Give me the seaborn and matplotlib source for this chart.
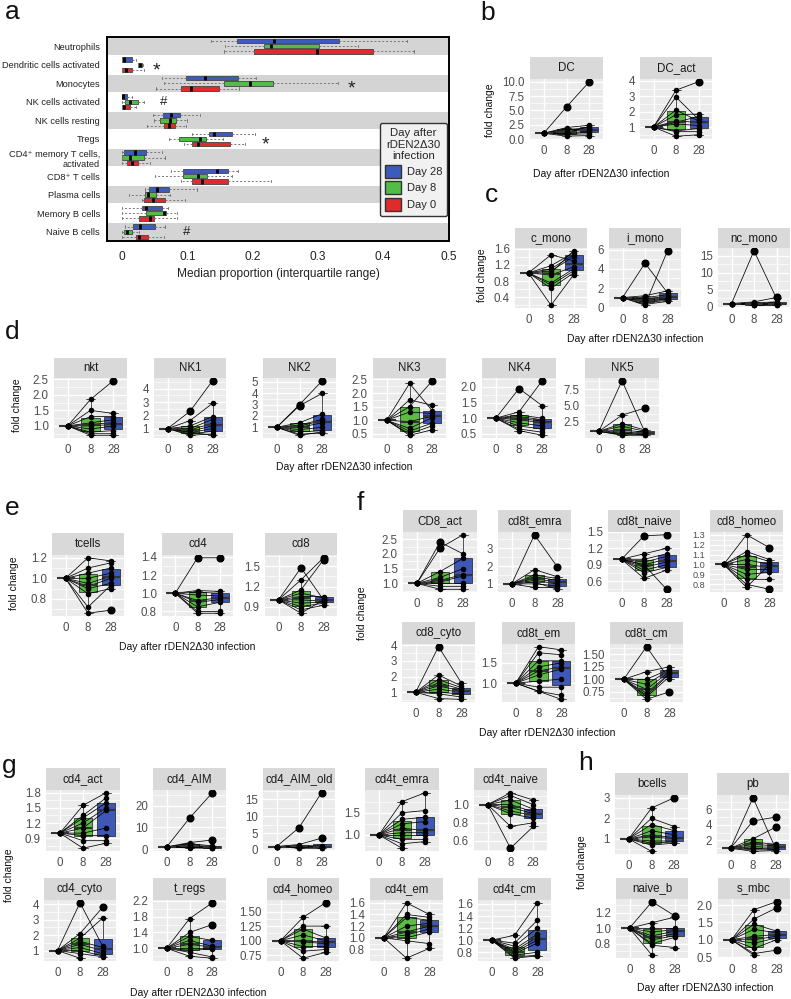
import matplotlib
matplotlib.use("Agg")
import matplotlib.pyplot as plt
import numpy as np
import pandas as pd
import seaborn as sns
from matplotlib.patches import Patch

W, H = 791, 999

# ---------------- panel a: median proportion per cell type ----------------
CELL_TYPES = [
    "Neutrophils", "Dendritic cells activated", "Monocytes", "NK cells activated",
    "NK cells resting", "Tregs", "CD4⁺ memory T cells,\nactivated", "CD8⁺ T cells",
    "Plasma cells", "Memory B cells", "Naive B cells",
]
# (lower whisker, q1, median, q3, upper whisker)
DAY28_STATS = [
    (0.137, 0.176, 0.233, 0.332, 0.437), (0.0, 0.0, 0.003, 0.016, 0.022),
    (0.061, 0.098, 0.127, 0.177, 0.206), (0.0, 0.0, 0.001, 0.008, 0.016),
    (0.048, 0.063, 0.075, 0.089, 0.120), (0.107, 0.134, 0.141, 0.169, 0.203),
    (0.0, 0.003, 0.020, 0.036, 0.062), (0.075, 0.093, 0.146, 0.163, 0.177),
    (0.035, 0.041, 0.053, 0.072, 0.115), (0.0, 0.031, 0.037, 0.062, 0.071),
    (0.005, 0.017, 0.027, 0.051, 0.066),
]
DAY8_STATS = [
    (0.158, 0.218, 0.229, 0.302, 0.362), (0.024, 0.025, 0.028, 0.031, 0.032),
    (0.064, 0.156, 0.196, 0.231, 0.331), (0.0, 0.004, 0.013, 0.024, 0.033),
    (0.049, 0.058, 0.073, 0.083, 0.100), (0.072, 0.087, 0.120, 0.129, 0.154),
    (0.0, 0.0, 0.013, 0.034, 0.066), (0.050, 0.093, 0.116, 0.130, 0.168),
    (0.010, 0.035, 0.040, 0.052, 0.074), (0.0, 0.037, 0.064, 0.068, 0.085),
    (0.0, 0.003, 0.008, 0.016, 0.026),
]
DAY0_STATS = [
    (0.156, 0.202, 0.299, 0.384, 0.447), (0.0, 0.0, 0.006, 0.016, 0.034),
    (0.052, 0.090, 0.106, 0.148, 0.179), (0.0, 0.0, 0.003, 0.013, 0.021),
    (0.039, 0.064, 0.072, 0.081, 0.098), (0.095, 0.107, 0.117, 0.165, 0.189),
    (0.0, 0.008, 0.016, 0.025, 0.043), (0.091, 0.107, 0.122, 0.163, 0.229),
    (0.030, 0.033, 0.047, 0.066, 0.097), (0.0, 0.026, 0.043, 0.049, 0.084),
    (0.0, 0.021, 0.026, 0.040, 0.065),
]
SIG_MARKS = [("*", 1, 0.053), ("*", 2, 0.351), ("#", 3, 0.063), ("*", 5, 0.220), ("#", 10, 0.099)]
A_XTICKS = [0, 0.1, 0.2, 0.3, 0.4, 0.5]
A_XTICKLABELS = ["0", "0.1", "0.2", "0.3", "0.4", "0.5"]

# ---------------- fold change per subject: (day 8, day 28); day 0 == 1 ----------------
PANEL_B = {
    "DC": ([5.6, 2.0, 1.8, 1.6, 1.3, 1.1, 0.9, 0.8, 0.5, 1.0],
           [10.0, 2.4, 1.5, 2.0, 1.7, 2.2, 1.2, 0.9, 0.6, 1.4]),
    "DC_act": ([3.4, 2.95, 1.8, 1.4, 1.3, 1.2, 0.75, 0.7, 0.4, 2.1],
               [3.95, 1.5, 1.85, 1.3, 1.7, 1.1, 0.9, 0.7, 0.5, 1.4]),
}
PANEL_C = {
    "c_mono": ([1.45, 1.18, 1.1, 1.05, 1.0, 0.95, 0.75, 0.7, 0.62, 0.2],
               [1.3, 1.5, 1.45, 1.4, 1.55, 1.15, 1.1, 1.05, 1.0, 0.95]),
    "i_mono": ([4.6, 1.2, 1.0, 0.9, 0.8, 0.7, 0.6, 0.5, 0.3, 0.2],
               [1.5, 1.7, 1.3, 1.1, 1.0, 0.9, 0.8, 0.7, 0.6, 5.9]),
    "nc_mono": ([16.5, 1.5, 1.2, 1.0, 0.9, 0.8, 0.7, 0.6, 0.5],
                [2.5, 2.8, 1.5, 1.2, 1.0, 0.9, 0.8, 0.6, 0.5]),
}
PANEL_D = {
    "nkt": ([1.85, 1.5, 1.3, 1.1, 1.05, 1.0, 0.9, 0.8, 0.75, 0.7],
            [2.45, 1.4, 1.3, 1.2, 1.1, 1.05, 1.0, 0.85, 0.75, 0.7]),
    "NK1": ([2.3, 1.6, 1.2, 1.0, 0.9, 0.8, 0.7, 0.6, 0.5],
            [4.6, 2.9, 1.9, 1.7, 1.4, 1.2, 1.0, 0.8, 0.6, 0.5]),
    "NK2": ([3.0, 1.4, 1.2, 1.1, 1.0, 0.8, 0.6, 0.4, 0.3, 2.9],
            [5.1, 2.2, 1.7, 1.6, 1.4, 1.0, 0.7, 0.5, 0.6, 4.0]),
    "NK3": ([2.35, 1.75, 1.5, 1.3, 0.95, 0.7, 0.6, 0.5, 0.45],
            [1.35, 1.55, 2.45, 1.25, 1.15, 1.1, 0.9, 0.8, 0.65]),
    "NK4": ([1.95, 1.2, 1.1, 1.05, 1.0, 0.95, 0.85, 0.75, 0.65, 0.6],
            [1.4, 2.2, 1.0, 0.95, 0.9, 0.85, 0.75, 0.65, 0.55, 0.45]),
    "NK5": ([8.8, 3.5, 2.2, 1.8, 1.2, 0.9, 0.7, 0.5, 0.4],
            [0.8, 4.6, 1.2, 1.0, 0.9, 0.7, 0.6, 0.5, 0.4]),
}
PANEL_E = {
    "tcells": ([1.2, 1.1, 1.05, 1.0, 0.95, 0.92, 0.9, 0.85, 0.72, 0.66],
               [1.17, 1.15, 1.1, 1.05, 1.02, 1.0, 0.95, 0.9, 0.93, 0.69]),
    "cd4": ([1.39, 1.03, 1.01, 0.98, 0.92, 0.9, 0.85, 0.8, 0.78],
            [1.39, 1.02, 1.0, 0.97, 0.95, 0.93, 0.9, 0.8, 0.78]),
    "cd8": ([1.48, 1.3, 1.15, 1.1, 1.05, 1.0, 0.95, 0.9, 0.85, 0.8],
            [1.0, 1.63, 1.6, 1.03, 1.05, 0.98, 0.97, 0.95, 0.92, 1.0]),
}
PANEL_F = {
    "CD8_act": ([2.4, 2.2, 1.4, 1.2, 1.1, 1.05, 1.0, 0.9, 0.8],
                [2.0, 2.65, 1.85, 1.5, 1.3, 1.25, 1.0, 0.9, 0.8]),
    "cd8t_emra": ([3.75, 1.8, 1.5, 1.4, 1.3, 1.2, 1.0, 0.8, 1.1],
                  [1.95, 1.4, 1.3, 1.2, 1.1, 1.0, 0.9, 0.8, 0.7]),
    "cd8t_naive": ([1.43, 1.1, 1.0, 0.95, 0.9, 0.85, 0.8, 0.75, 0.65, 0.9],
                   [1.45, 1.2, 1.1, 1.05, 1.0, 0.95, 0.9, 0.85, 0.8, 0.45]),
    "cd8_homeo": ([1.3, 1.13, 1.1, 1.05, 1.0, 0.95, 0.9, 0.85, 0.8, 0.77],
                  [1.17, 1.05, 1.03, 1.0, 0.97, 0.95, 0.92, 0.85, 0.75, 1.0]),
    "cd8_cyto": ([3.9, 2.1, 1.8, 1.6, 1.4, 1.2, 1.0, 0.9, 0.6],
                 [1.6, 1.4, 1.3, 1.2, 1.1, 1.0, 0.9, 0.7, 0.55]),
    "cd8t_em": ([1.9, 1.75, 1.55, 1.4, 1.3, 1.2, 1.05, 0.9, 0.8],
                [1.82, 1.7, 1.55, 1.5, 1.4, 1.35, 1.1, 0.9, 0.7, 0.6]),
    "cd8t_cm": ([1.65, 1.15, 1.0, 0.9, 0.8, 0.72, 0.68, 0.65, 0.6],
                [1.0, 1.25, 1.2, 1.18, 1.15, 1.12, 1.1, 1.05, 0.75]),
}
PANEL_G = {
    "cd4_act": ([1.55, 1.35, 1.3, 1.2, 1.1, 1.0, 0.95, 0.85, 0.7],
                [1.8, 1.7, 1.6, 1.5, 1.45, 1.1, 0.95, 0.85, 0.8]),
    "cd4_AIM": ([14.3, 3.0, 2.5, 1.8, 1.5, 1.2, 1.0, 0.8, 0.5],
                [26.0, 4.2, 1.5, 1.2, 1.0, 0.8, 0.6, 0.5, 0.4]),
    "cd4_AIM_old": ([6.6, 1.6, 1.3, 1.1, 1.0, 0.9, 0.7, 0.5],
                    [17.0, 3.5, 1.2, 1.0, 0.9, 0.8, 0.6, 0.5]),
    "cd4t_emra": ([1.75, 1.5, 1.35, 1.25, 1.15, 1.05, 1.0, 0.9, 0.8, 0.7],
                  [1.95, 1.55, 1.4, 1.3, 1.1, 1.05, 1.0, 0.9, 0.85]),
    "cd4t_naive": ([1.13, 1.1, 1.05, 1.0, 0.97, 0.93, 0.9, 0.76, 0.52],
                   [1.05, 1.0, 0.95, 0.92, 0.9, 0.88, 0.85, 0.8, 0.76]),
    "cd4_cyto": ([4.1, 2.1, 1.8, 1.6, 1.4, 1.2, 1.0, 0.8, 0.5],
                 [1.3, 3.8, 3.1, 1.2, 1.0, 0.8, 0.65, 0.6]),
    "t_regs": ([1.75, 1.4, 1.3, 1.2, 1.1, 1.0, 0.95, 0.9, 0.8],
               [2.15, 1.6, 1.2, 1.05, 1.03, 1.0, 0.98, 0.78, 0.75]),
    "cd4_homeo": ([1.4, 1.25, 1.2, 1.1, 1.0, 0.98, 0.9, 0.82, 0.7],
                  [1.65, 1.25, 1.05, 1.0, 0.97, 0.95, 0.9, 0.85, 0.8]),
    "cd4t_em": ([1.6, 1.4, 1.35, 1.2, 1.1, 1.05, 1.0, 0.95, 0.65],
                [1.4, 1.35, 1.3, 1.25, 1.2, 1.15, 1.1, 0.9, 0.82]),
    "cd4t_cm": ([1.08, 0.95, 0.9, 0.85, 0.82, 0.8, 0.78, 0.75, 0.72, 0.7],
                [1.62, 1.33, 1.2, 1.1, 1.05, 1.0, 0.95, 0.8, 0.75, 0.74]),
}
PANEL_H = {
    "bcells": ([2.5, 2.0, 1.7, 1.4, 1.2, 1.1, 0.9, 0.8, 0.7, 0.4],
               [3.0, 1.6, 1.4, 1.2, 1.05, 1.0, 0.9, 0.85, 0.8]),
    "pb": ([7.5, 4.5, 2.2, 1.8, 1.5, 1.2, 1.0, 0.8, 0.6],
           [1.0, 5.0, 3.7, 1.5, 1.3, 1.1, 0.9, 0.8, 0.7]),
    "naive_b": ([1.34, 1.07, 1.0, 0.95, 0.9, 0.87, 0.85, 0.8, 0.78, 0.65],
                [1.16, 1.14, 1.0, 0.98, 0.96, 0.93, 0.9, 0.88, 0.75]),
    "s_mbc": ([1.87, 1.6, 1.45, 1.3, 1.1, 1.0, 0.9, 0.75, 0.6, 0.55],
              [2.1, 1.92, 1.25, 1.2, 1.15, 1.1, 1.05, 1.0, 0.7]),
}
Y_BREAKS = {
    "DC": [0, 2.5, 5, 7.5, 10], "DC_act": [1, 2, 3, 4],
    "c_mono": [0.4, 0.8, 1.2, 1.6], "i_mono": [0, 2, 4, 6], "nc_mono": [0, 5, 10, 15],
    "nkt": [1.0, 1.5, 2.0, 2.5], "NK1": [1, 2, 3, 4], "NK2": [1, 2, 3, 4, 5],
    "NK3": [0.5, 1.0, 1.5, 2.0, 2.5], "NK4": [0.5, 1.0, 1.5, 2.0], "NK5": [2.5, 5.0, 7.5],
    "tcells": [0.8, 1.0, 1.2], "cd4": [0.8, 1.0, 1.2, 1.4], "cd8": [0.9, 1.2, 1.5],
    "CD8_act": [1.0, 1.5, 2.0, 2.5], "cd8t_emra": [1, 2, 3], "cd8t_naive": [0.6, 0.9, 1.2, 1.5],
    "cd8_homeo": [0.8, 0.9, 1.0, 1.1, 1.2, 1.3], "cd8_cyto": [1, 2, 3, 4],
    "cd8t_em": [1.0, 1.5], "cd8t_cm": [0.75, 1.0, 1.25, 1.5],
    "cd4_act": [0.9, 1.2, 1.5, 1.8], "cd4_AIM": [0, 10, 20], "cd4_AIM_old": [0, 5, 10, 15],
    "cd4t_emra": [1.0, 1.5], "cd4t_naive": [0.6, 0.8, 1.0], "cd4_cyto": [1, 2, 3, 4],
    "t_regs": [1.0, 1.4, 1.8, 2.2], "cd4_homeo": [0.75, 1.0, 1.25, 1.5],
    "cd4t_em": [0.8, 1.0, 1.2, 1.4, 1.6], "cd4t_cm": [0.8, 1.0, 1.2, 1.4, 1.6],
    "bcells": [1, 2, 3], "pb": [2, 4, 6], "naive_b": [0.8, 1.0, 1.2], "s_mbc": [0.5, 1.0, 1.5, 2.0],
}
DAYS = [0, 8, 28]
DAY_LABELS = ["0", "8", "28"]
XLABEL = "Day after rDEN2Δ30 infection"

# ---------------- layout in pixels: name -> (left, right, strip top, panel top, panel bottom) ----------------
LAYOUT = {
    "DC": (530, 603, 57, 79, 139), "DC_act": (640, 712, 57, 79, 139),
    "c_mono": (515, 587, 228, 248, 308), "i_mono": (609, 681, 228, 248, 308),
    "nc_mono": (718, 790, 228, 248, 308),
    "nkt": (54, 127, 358, 378, 438), "NK1": (154, 226, 358, 378, 438),
    "NK2": (263, 336, 358, 378, 438), "NK3": (373, 446, 358, 378, 438),
    "NK4": (482, 556, 358, 378, 438), "NK5": (585, 659, 358, 378, 438),
    "tcells": (52, 124, 533, 555, 616), "cd4": (162, 233, 533, 555, 616),
    "cd8": (265, 337, 533, 555, 616),
    "CD8_act": (403, 477, 510, 532, 592), "cd8t_emra": (498, 571, 510, 532, 592),
    "cd8t_naive": (608, 680, 510, 532, 592), "cd8_homeo": (710, 783, 510, 532, 592),
    "cd8_cyto": (402, 475, 622, 644, 702), "cd8t_em": (502, 575, 622, 644, 702),
    "cd8t_cm": (610, 683, 622, 644, 702),
    "cd4_act": (46, 120, 768, 790, 851), "cd4_AIM": (153, 226, 768, 790, 851),
    "cd4_AIM_old": (263, 335, 768, 790, 851), "cd4t_emra": (365, 439, 768, 790, 851),
    "cd4t_naive": (474, 547, 768, 790, 851),
    "cd4_cyto": (44, 116, 878, 900, 961), "t_regs": (153, 226, 878, 900, 961),
    "cd4_homeo": (267, 339, 878, 900, 961), "cd4t_em": (370, 443, 878, 900, 961),
    "cd4t_cm": (478, 551, 878, 900, 961),
    "bcells": (615, 688, 773, 795, 854), "pb": (717, 789, 773, 795, 854),
    "naive_b": (616, 688, 878, 899, 958), "s_mbc": (718, 790, 878, 899, 958),
}
TICK_FONT = {"cd8_homeo": 6.6}
# panel letter, ylabel and xlabel anchor points (pixels)
LETTERS = {"a": (12, 12), "b": (488, 13), "c": (492, 195), "d": (12, 332),
           "e": (12, 508), "f": (360, 503), "g": (9, 766), "h": (585, 763)}
YLABELS = {"b": (490, 110), "c": (482, 275), "d": (17, 405), "e": (14, 583),
           "f": (362, 613), "g": (9, 875), "h": (582, 862)}
XLABELS = {"b": (601, 174), "c": (635, 339), "d": (344, 467), "e": (187, 647),
           "f": (547, 733), "g": (198, 993), "h": (705, 988)}

BLUE_A, GREEN_A, RED_A = "#3b5bbd", "#52bd46", "#e2292b"
BLUE, GREEN, RED = "#3d58b6", "#5cbb45", "#e2292b"
PANEL_BG, STRIP_BG = "#ebebeb", "#d9d9d9"


def px_axes(fig, left, top, right, bottom):
    return fig.add_axes([left / W, 1 - bottom / H, (right - left) / W, (bottom - top) / H])


def fmt_breaks(breaks):
    for d in range(4):
        if all(abs(round(b, d) - b) < 1e-9 for b in breaks):
            return [f"{b:.{d}f}" for b in breaks]
    return [str(b) for b in breaks]


def draw_panel_a(fig):
    ax = px_axes(fig, 107, 37, 449, 241)
    n = len(CELL_TYPES)
    ypos = np.arange(n)
    for i in range(0, n, 2):
        ax.axhspan(i - 0.46, i + 0.46, color="#d4d4d4", lw=0, zorder=0)

    for stats, off, color in [(DAY28_STATS, -0.28, BLUE_A), (DAY8_STATS, 0.0, GREEN_A), (DAY0_STATS, 0.28, RED_A)]:
        bx = [dict(whislo=s[0], q1=s[1], med=s[2], q3=s[3], whishi=s[4], fliers=[]) for s in stats]
        ax.bxp(
            bx, positions=ypos + off, widths=0.24, orientation="horizontal",
            patch_artist=True, showfliers=False, manage_ticks=False, capwidths=0.12,
            boxprops=dict(facecolor=color, edgecolor="#444444", linewidth=0.6),
            medianprops=dict(color="black", linewidth=2.0),
            whiskerprops=dict(color="#777777", linewidth=0.7, linestyle=(0, (2, 2))),
            capprops=dict(color="#777777", linewidth=0.7),
        )

    for sym, row, x in SIG_MARKS:
        if sym == "*":
            ax.text(x, row + 0.32, sym, ha="center", va="center", fontsize=14, color="#222222")
        else:
            ax.text(x, row, sym, ha="center", va="center", fontsize=9.5, color="#222222")

    ax.set_ylim(n - 0.5, -0.5)
    ax.set_xlim(-0.023, 0.501)
    ax.set_yticks(ypos, CELL_TYPES, fontsize=6.7)
    ax.set_xticks(A_XTICKS, A_XTICKLABELS, fontsize=8.6)
    ax.tick_params(axis="y", length=3, width=0.6, color="#555555", pad=2, labelcolor="#222222")
    ax.tick_params(axis="x", length=3, width=0.6, color="#555555", pad=4, labelcolor="#222222")
    ax.set_xlabel("Median proportion (interquartile range)", fontsize=8.6, labelpad=4, color="#222222")
    for s in ax.spines.values():
        s.set_linewidth(1.4)
        s.set_color("black")
    ax.set_facecolor("white")

    handles = [Patch(facecolor=BLUE_A, edgecolor="#333333", label="Day 28"),
               Patch(facecolor=GREEN_A, edgecolor="#333333", label="Day 8"),
               Patch(facecolor=RED_A, edgecolor="#333333", label="Day 0")]
    leg = ax.legend(
        handles=handles, title="Day after\nrDEN2Δ30\ninfection", loc="upper left",
        bbox_to_anchor=(0.782, 0.605), fontsize=8, title_fontsize=8.2, frameon=True,
        fancybox=True, edgecolor="#333333", facecolor="#f1f1f1", framealpha=1,
        handlelength=1.45, handleheight=1.45, labelspacing=0.3, borderpad=0.45, handletextpad=0.5,
    )
    leg.get_title().set_multialignment("center")
    leg.get_frame().set_linewidth(1.0)


def small_panel(fig, name, d8, d28):
    x0, x1, strip_top, top, bottom = LAYOUT[name]
    breaks = Y_BREAKS[name]
    ax = px_axes(fig, x0, top, x1, bottom)
    sax = px_axes(fig, x0, strip_top, x1, top)
    sax.set_facecolor(STRIP_BG)
    sax.set_xticks([])
    sax.set_yticks([])
    for s in sax.spines.values():
        s.set_visible(False)
    sax.text(0.5, 0.5, name, ha="center", va="center", fontsize=8.3, color="#1a1a1a",
             transform=sax.transAxes)

    rows = []
    for i in range(max(len(d8), len(d28))):
        rows.append((i, 0, 1.0))
        if i < len(d8):
            rows.append((i, 8, d8[i]))
        if i < len(d28):
            rows.append((i, 28, d28[i]))
    df = pd.DataFrame(rows, columns=["subject", "day", "fc"])
    df["pos"] = df["day"].map({d: k for k, d in enumerate(DAYS)})

    sns.boxplot(
        data=df, x="day", y="fc", hue="day", order=DAYS, palette={0: RED, 8: GREEN, 28: BLUE},
        saturation=1, width=0.8, linewidth=0.6, linecolor="#333333", legend=False, ax=ax,
        showfliers=True,
        flierprops=dict(marker="o", markerfacecolor="black", markeredgecolor="black", markersize=4.8),
        medianprops=dict(linewidth=1.5),
    )
    sns.lineplot(data=df, x="pos", y="fc", units="subject", estimator=None, color="black",
                 linewidth=0.55, ax=ax, legend=False)
    sns.scatterplot(data=df, x="pos", y="fc", color="black", s=16, linewidth=0, ax=ax,
                    zorder=4, legend=False)

    lo, hi = df["fc"].min(), df["fc"].max()
    pad = 0.05 * (hi - lo)
    ax.set_ylim(lo - pad, hi + pad)
    ax.set_xlim(-0.6, 2.6)
    ax.set_xticks(range(len(DAYS)), DAY_LABELS)
    ax.set_yticks(breaks, fmt_breaks(breaks))
    step = breaks[1] - breaks[0]
    minors = [b + step / 2 for b in [breaks[0] - step] + list(breaks)]
    minors = [m for m in minors if lo - pad < m < hi + pad]
    ax.set_yticks(minors, minor=True)
    ax.set_facecolor(PANEL_BG)
    ax.set_axisbelow(True)
    ax.grid(which="major", color="white", linewidth=1.0)
    ax.grid(which="minor", axis="y", color="white", linewidth=0.5)
    ax.tick_params(which="major", length=2.5, width=0.6, color="#333333", labelsize=8.3,
                   labelcolor="#4d4d4d", pad=1.5)
    ax.tick_params(axis="y", labelsize=TICK_FONT.get(name, 8.3), pad=1.2)
    ax.tick_params(which="minor", length=0)
    for s in ax.spines.values():
        s.set_visible(False)
    ax.set_xlabel("")
    ax.set_ylabel("")


def main():
    sns.set_theme(style="white")
    plt.rcParams["font.family"] = ["Liberation Sans", "DejaVu Sans"]

    fig = plt.figure(figsize=(W / 100, H / 100), dpi=100)
    draw_panel_a(fig)

    for group in [PANEL_B, PANEL_C, PANEL_D, PANEL_E, PANEL_F, PANEL_G, PANEL_H]:
        for name, (d8, d28) in group.items():
            small_panel(fig, name, d8, d28)

    for letter, (x, y) in LETTERS.items():
        fig.text(x / W, 1 - y / H, letter, fontsize=19, ha="center", va="center", color="#111111")
    for key, (x, y) in YLABELS.items():
        fig.text(x / W, 1 - y / H, "fold change", rotation=90, fontsize=7.5, ha="center",
                 va="center", color="#111111")
    for key, (x, y) in XLABELS.items():
        fig.text(x / W, 1 - y / H, XLABEL, fontsize=7.5, ha="center", va="center", color="#111111")

    fig.savefig("out.png", dpi=100)


if __name__ == "__main__":
    main()
